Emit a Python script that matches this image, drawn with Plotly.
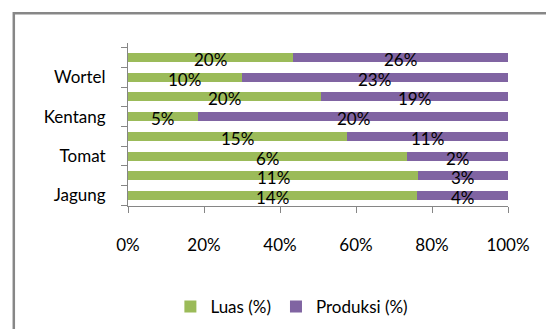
import plotly.graph_objects as go

# rows from top to bottom
row_ids = ["r1", "r2", "r3", "r4", "r5", "r6", "r7", "r8"]
row_labels = ["", "Wortel", "", "Kentang", "", "Tomat", "", "Jagung"]
luas = [20, 10, 20, 4.6, 15, 6.1, 11, 14]
produksi = [26, 23.4, 19.4, 20.3, 11, 2.2, 3.4, 4.4]
x_ticks = [0, 20, 40, 60, 80, 100]
x_ticktext = ["0%", "20%", "40%", "60%", "80%", "100%"]

GREEN = "#9BBB59"
PURPLE = "#8064A2"
AXIS = "#868686"
FONT = "Lato"
FS = 17

fig = go.Figure()
fig.add_trace(go.Bar(y=row_ids, x=luas, orientation="h", name="Luas (%)",
                     marker=dict(color=GREEN, line=dict(width=0))))
fig.add_trace(go.Bar(y=row_ids, x=produksi, orientation="h", name="Produksi (%)",
                     marker=dict(color=PURPLE, line=dict(width=0))))

# data labels centred in each segment
annotations = []
for rid, a, b in zip(row_ids, luas, produksi):
    t = a + b
    for xc, v in ((100 * a / t / 2, a), (100 * (a + b / 2) / t, b)):
        annotations.append(dict(x=xc, y=rid, xref="x", yref="y", text=f"{round(v)}%",
                                showarrow=False, yshift=-2,
                                font=dict(family=FONT, size=FS, color="#000000")))

fig.update_layout(
    barmode="stack", barnorm="percent", bargap=0.55,
    width=546, height=329,
    margin=dict(l=127.5, r=37.5, t=43, b=123, autoexpand=False),
    paper_bgcolor="white", plot_bgcolor="white",
    font=dict(family=FONT, size=FS, color="#000000"),
    legend=dict(orientation="h", traceorder="normal",
                x=(170 - 127.5) / 381, xanchor="left", y=-0.62, yanchor="middle",
                font=dict(family=FONT, size=FS), itemwidth=30),
    showlegend=True,
    annotations=annotations,
)
fig.update_xaxes(range=[0, 100], tickvals=x_ticks, ticktext=x_ticktext,
                 showgrid=False, zeroline=False, showline=True, linecolor=AXIS, linewidth=1,
                 ticks="outside", ticklen=6, tickcolor=AXIS, ticklabelstandoff=18)
fig.update_yaxes(type="category", categoryorder="array", categoryarray=row_ids,
                 autorange="reversed", tickmode="array", tickvals=row_ids, ticktext=row_labels,
                 tickson="boundaries", showgrid=False, zeroline=False,
                 showline=True, linecolor=AXIS, linewidth=1,
                 ticks="outside", ticklen=6, tickcolor=AXIS, ticklabelstandoff=18)

# outer chart border (top/left/right visible)
fig.add_shape(type="rect", xref="paper", yref="paper",
              x0=(13 - 127.5) / 381, x1=(548 - 127.5) / 381,
              y0=(206 - 340) / 163, y1=(206 - 13.3) / 163,
              line=dict(color="#878787", width=2.5), fillcolor="rgba(0,0,0,0)", layer="below")

fig.write_html("out.html")
